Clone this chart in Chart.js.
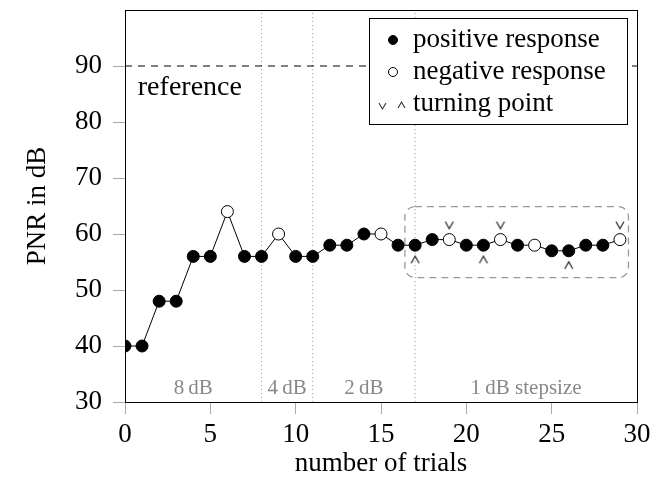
<!DOCTYPE html>
<html>
<head>
<meta charset="utf-8">
<title>PNR adaptive track</title>
<script src="https://cdn.jsdelivr.net/npm/chart.js@4/dist/chart.umd.min.js"></script>
<style>
  body { margin: 0; background: #fff; }
  canvas { display: block; }
</style>
</head>
<body>
<canvas id="track" width="664" height="477"></canvas>
<script>
// adaptive track, one value per trial
const trials = [0, 1, 2, 3, 4, 5, 6, 7, 8, 9, 10, 11, 12, 13, 14, 15, 16, 17, 18, 19, 20, 21, 22, 23, 24, 25, 26, 27, 28, 29];
const pnr = [40, 40, 48, 48, 56, 56, 64, 56, 56, 60, 56, 56, 58, 58, 60, 60, 58, 58, 59, 59, 58, 58, 59, 58, 58, 57, 57, 58, 58, 59];
const positive = [1, 1, 1, 1, 1, 1, 0, 1, 1, 0, 1, 1, 1, 1, 1, 0, 1, 1, 1, 0, 1, 1, 0, 1, 0, 1, 1, 1, 1, 0];
const turnsAbove = [19, 22, 29];   // "v" drawn over the point
const turnsBelow = [17, 21, 26];   // "^" drawn under the point
const stepBounds = [0, 8, 11, 17, 30];
const stepLabels = ['8\u2009dB', '4\u2009dB', '2\u2009dB', '1\u2009dB stepsize'];
const referencePnr = 90;
const xTicks = [0, 5, 10, 15, 20, 25, 30];
const yTicks = [30, 40, 50, 60, 70, 80, 90];
const focusBox = { x0: 16.4, x1: 29.5, y0: 52.2, y1: 64.9 };

const serif = "'Liberation Serif', 'Times New Roman', serif";

function chevron(up) {
  const c = document.createElement('canvas');
  c.width = 12;
  c.height = 40;
  const g = c.getContext('2d');
  g.strokeStyle = '#222';
  g.lineWidth = 1.2;
  g.beginPath();
  if (up) {
    g.moveTo(2, 38); g.lineTo(6, 31); g.lineTo(10, 38);
  } else {
    g.moveTo(2, 2); g.lineTo(6, 9); g.lineTo(10, 2);
  }
  g.stroke();
  return c;
}

const pnrAt = t => pnr[trials.indexOf(t)];

const track = trials.map((t, i) => ({ x: t, y: pnr[i] }));

const datasets = [{
  data: track,
  borderColor: '#000',
  borderWidth: 1,
  pointRadius: 6,
  pointHoverRadius: 6,
  pointBorderWidth: 1,
  pointBorderColor: '#000',
  pointBackgroundColor: positive.map(p => p ? '#000' : '#fff'),
  order: 0
}, {
  data: turnsAbove.map(t => ({ x: t, y: pnrAt(t) })),
  showLine: false,
  pointStyle: chevron(false),
  order: 1
}, {
  data: turnsBelow.map(t => ({ x: t, y: pnrAt(t) })),
  showLine: false,
  pointStyle: chevron(true),
  order: 1
}, {
  data: [{ x: xTicks[0], y: referencePnr }, { x: xTicks[xTicks.length - 1], y: referencePnr }],
  borderColor: '#000',
  borderWidth: 1,
  borderDash: [7, 6],
  pointRadius: 0,
  order: 5
}];

stepBounds.slice(1, -1).forEach(b => {
  datasets.push({
    data: [{ x: b, y: 30 }, { x: b, y: 100 }],
    borderColor: '#999',
    borderWidth: 1,
    borderDash: [1, 3],
    pointRadius: 0,
    order: 6
  });
});

const overlay = {
  id: 'overlay',
  beforeDatasetsDraw(chart) {
    const { ctx, scales: { x, y } } = chart;
    ctx.save();
    // step size labels
    ctx.fillStyle = '#888';
    ctx.font = '21px ' + serif;
    ctx.textAlign = 'center';
    ctx.textBaseline = 'middle';
    stepLabels.forEach((s, i) => {
      const mid = (stepBounds[i] + stepBounds[i + 1]) / 2;
      ctx.fillText(s, x.getPixelForValue(mid), y.getPixelForValue(32.5));
    });
    // reference label
    ctx.fillStyle = '#000';
    ctx.font = '28px ' + serif;
    ctx.textAlign = 'left';
    ctx.fillText('reference', x.getPixelForValue(0.75), y.getPixelForValue(86.2));
    // dashed box round the 1 dB part
    const bx = x.getPixelForValue(focusBox.x0), bx1 = x.getPixelForValue(focusBox.x1);
    const by = y.getPixelForValue(focusBox.y1), by1 = y.getPixelForValue(focusBox.y0);
    ctx.strokeStyle = '#999';
    ctx.lineWidth = 1.3;
    ctx.setLineDash([7, 5]);
    ctx.beginPath();
    ctx.roundRect(bx, by, bx1 - bx, by1 - by, 10);
    ctx.stroke();
    ctx.restore();
  },
  afterDatasetsDraw(chart) {
    const { ctx, chartArea: a } = chart;
    ctx.save();
    // frame
    ctx.strokeStyle = '#000';
    ctx.lineWidth = 1;
    ctx.strokeRect(Math.round(a.left) + 0.5, Math.round(a.top) + 0.5,
      Math.round(a.right - a.left), Math.round(a.bottom - a.top));
    // legend
    const w = 258, h = 106;
    const lx = Math.round(a.right) - 10 - w, ly = Math.round(a.top) + 8;
    ctx.fillStyle = '#fff';
    ctx.fillRect(lx, ly, w, h);
    ctx.strokeRect(lx + 0.5, ly + 0.5, w, h);
    ctx.font = '27px ' + serif;
    ctx.textAlign = 'left';
    ctx.textBaseline = 'middle';
    const rows = ['positive response', 'negative response', 'turning point'];
    rows.forEach((r, i) => {
      const ry = ly + 22 + i * 32;
      ctx.fillStyle = '#000';
      ctx.fillText(r, lx + 44, ry);
      if (i < 2) {
        ctx.beginPath();
        ctx.arc(lx + 24, ry, 4.5, 0, Math.PI * 2);
        ctx.fillStyle = i === 0 ? '#000' : '#fff';
        ctx.fill();
        ctx.stroke();
      } else {
        ctx.strokeStyle = '#333';
        ctx.lineWidth = 1.1;
        ctx.beginPath();
        ctx.moveTo(lx + 10, ry - 1); ctx.lineTo(lx + 13.5, ry + 5); ctx.lineTo(lx + 17, ry - 1);
        ctx.moveTo(lx + 29, ry + 4); ctx.lineTo(lx + 32.5, ry - 2); ctx.lineTo(lx + 36, ry + 4);
        ctx.stroke();
      }
    });
    ctx.restore();
  }
};

new Chart(document.getElementById('track'), {
  type: 'line',
  data: { datasets },
  plugins: [overlay],
  options: {
    responsive: false,
    animation: false,
    events: [],
    layout: { padding: { top: 10, right: 27, left: 0, bottom: 0 } },
    plugins: { legend: { display: false }, tooltip: { enabled: false } },
    scales: {
      x: {
        type: 'linear',
        min: 0,
        max: 30,
        afterBuildTicks: s => { s.ticks = xTicks.map(v => ({ value: v })); },
        afterFit: s => { s.height = 75; s.paddingLeft = 0; s.paddingRight = 0; },
        grid: { drawOnChartArea: false, tickLength: 12, color: '#aaa' },
        border: { display: false },
        ticks: { color: '#000', padding: 5, maxRotation: 0, font: { family: serif, size: 27 } },
        title: {
          display: true,
          text: 'number of trials',
          color: '#000',
          font: { family: serif, size: 27, lineHeight: 1 },
          padding: 0
        }
      },
      y: {
        min: 30,
        max: 100,
        afterBuildTicks: s => { s.ticks = yTicks.map(v => ({ value: v })); },
        afterFit: s => { s.width = 125; s.paddingTop = 0; s.paddingBottom = 0; },
        grid: { drawOnChartArea: false, tickLength: 12, color: '#aaa' },
        border: { display: false },
        ticks: { color: '#000', padding: 11, font: { family: serif, size: 27 } },
        title: {
          display: true,
          text: 'PNR in dB',
          color: '#000',
          font: { family: serif, size: 27, lineHeight: 1 },
          padding: { top: 24, bottom: 0 }
        }
      }
    }
  }
});
</script>
</body>
</html>
